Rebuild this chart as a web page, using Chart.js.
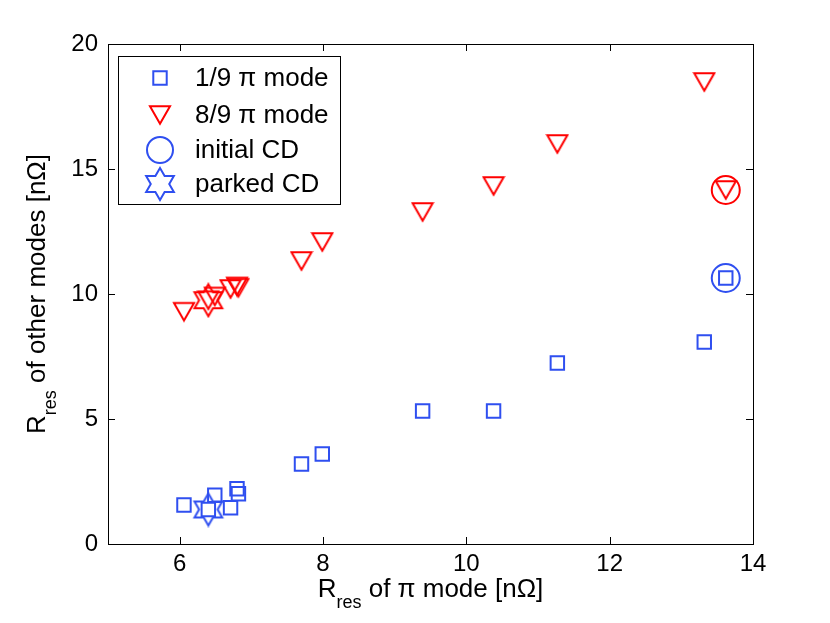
<!DOCTYPE html>
<html>
<head>
<meta charset="utf-8">
<script src="https://cdn.jsdelivr.net/npm/chart.js@4.4.0/dist/chart.umd.min.js"></script>
<style>
  html, body { margin: 0; padding: 0; background: #fff; }
  #wrap { width: 830px; height: 623px; }
</style>
</head>
<body>
<div id="wrap"><canvas id="chart" width="830" height="623"></canvas></div>
<script>
// R_res of pi mode (x) and of the other modes (y), in nOhm
const piMode = [6.06, 6.40, 6.49, 6.71, 6.80, 6.82, 7.70, 7.99, 9.39, 10.38, 11.27, 13.32, 13.62];
const mode1 = [1.56, 1.38, 1.95, 1.45, 2.21, 2.01, 3.20, 3.60, 5.32, 5.32, 7.24, 8.08, 10.64];
const mode8 = [9.29, 9.75, 9.90, 10.20, 10.30, 10.25, 11.32, 12.08, 13.28, 14.32, 16.00, 18.48, 14.16];
const initialIdx = 12;  // initial CD
const parkedIdx = 1;    // parked CD
const xTicks = [6, 8, 10, 12, 14];
const yTicks = [0, 5, 10, 15, 20];
const legendLabels = ['1/9 \u03c0 mode', '8/9 \u03c0 mode', 'initial CD', 'parked CD'];

const BLUE = '#2f4ff0';
const RED = '#ff0000';
const FONT = '"Liberation Sans", Arial, Helvetica, sans-serif';

function pts(ys) {
  return piMode.map((x, i) => ({ x: x, y: ys[i] }));
}
function pick(ys, i) {
  return [{ x: piMode[i], y: ys[i] }];
}

// downward triangle, centred on its bounding box like matlab's 'v'
function triMarker(color, side) {
  const h = side * Math.sqrt(3) / 2;
  const c = document.createElement('canvas');
  c.width = Math.ceil(side + 4);
  c.height = Math.ceil(h + 4);
  const g = c.getContext('2d');
  const cx = c.width / 2, cy = c.height / 2;
  g.strokeStyle = color;
  g.lineWidth = 2;
  g.beginPath();
  g.moveTo(cx - side / 2, cy - h / 2);
  g.lineTo(cx + side / 2, cy - h / 2);
  g.lineTo(cx, cy + h / 2);
  g.closePath();
  g.stroke();
  return c;
}

// six pointed star outline ('h' marker)
function hexMarker(color, R) {
  const c = document.createElement('canvas');
  c.width = c.height = Math.ceil(2 * R + 4);
  const g = c.getContext('2d');
  const cx = c.width / 2, cy = c.height / 2;
  const r = R / Math.sqrt(3);
  g.strokeStyle = color;
  g.lineWidth = 2;
  g.beginPath();
  for (let k = 0; k < 12; k++) {
    const a = -Math.PI / 2 + k * Math.PI / 6;
    const rr = k % 2 === 0 ? R : r;
    const px = cx + rr * Math.cos(a), py = cy + rr * Math.sin(a);
    if (k === 0) g.moveTo(px, py); else g.lineTo(px, py);
  }
  g.closePath();
  g.stroke();
  return c;
}

const triRed = triMarker(RED, 20);
const hexBlue = hexMarker(BLUE, 16);
const hexRed = hexMarker(RED, 16);

// axes box with inward ticks on all sides
const boxPlugin = {
  id: 'box',
  afterDatasetsDraw(chart) {
    const { ctx, chartArea: a, scales } = chart;
    ctx.save();
    ctx.strokeStyle = '#000';
    ctx.lineWidth = 1;
    ctx.strokeRect(a.left + 0.5, a.top + 0.5, a.right - a.left, a.bottom - a.top);
    ctx.beginPath();
    xTicks.forEach(v => {
      const px = Math.round(scales.x.getPixelForValue(v)) + 0.5;
      ctx.moveTo(px, a.bottom); ctx.lineTo(px, a.bottom - 7);
      ctx.moveTo(px, a.top); ctx.lineTo(px, a.top + 7);
    });
    yTicks.forEach(v => {
      const py = Math.round(scales.y.getPixelForValue(v)) + 0.5;
      ctx.moveTo(a.left, py); ctx.lineTo(a.left + 7, py);
      ctx.moveTo(a.right, py); ctx.lineTo(a.right - 7, py);
    });
    ctx.stroke();
    ctx.restore();
  }
};

// axis titles with subscripts
function subTitle(ctx, x, y, rotate) {
  const big = '26px ' + FONT, small = '18px ' + FONT;
  ctx.save();
  ctx.translate(x, y);
  if (rotate) ctx.rotate(-Math.PI / 2);
  ctx.fillStyle = '#000';
  ctx.textBaseline = 'alphabetic';
  ctx.textAlign = 'left';
  const rest = rotate ? ' of other modes [n\u03a9]' : ' of \u03c0 mode [n\u03a9]';
  ctx.font = big;
  const wR = ctx.measureText('R').width;
  const wRest = ctx.measureText(rest).width;
  ctx.font = small;
  const wSub = ctx.measureText('res').width;
  let cx = -(wR + wSub + wRest) / 2;
  ctx.font = big;
  ctx.fillText('R', cx, 0);
  cx += wR;
  ctx.font = small;
  ctx.fillText('res', cx, 11);
  cx += wSub;
  ctx.font = big;
  ctx.fillText(rest, cx, 0);
  ctx.restore();
}

const titlePlugin = {
  id: 'titles',
  afterDraw(chart) {
    const { ctx, chartArea: a } = chart;
    subTitle(ctx, (a.left + a.right) / 2, 597, false);
    subTitle(ctx, 45, (a.top + a.bottom) / 2, true);
  }
};

// legend box in the upper left corner of the axes
const legendPlugin = {
  id: 'boxLegend',
  afterDraw(chart) {
    const ctx = chart.ctx;
    const styles = [
      { pointStyle: 'rect', radius: 9.5, color: BLUE },
      { pointStyle: triRed, radius: 10, color: RED },
      { pointStyle: 'circle', radius: 13, color: BLUE },
      { pointStyle: hexBlue, radius: 16, color: BLUE }
    ];
    const rows = [78, 115, 150, 184];
    ctx.save();
    ctx.fillStyle = '#fff';
    ctx.fillRect(118, 56, 223, 149);
    ctx.strokeStyle = '#000';
    ctx.lineWidth = 1;
    ctx.strokeRect(118.5, 56.5, 222, 148);
    styles.forEach((s, i) => {
      ctx.strokeStyle = s.color;
      ctx.fillStyle = 'rgba(0,0,0,0)';
      ctx.lineWidth = 2;
      Chart.helpers.drawPoint(ctx, { pointStyle: s.pointStyle, radius: s.radius, borderWidth: 2, rotation: 0 }, 160, rows[i]);
      ctx.fillStyle = '#000';
      ctx.font = '26px ' + FONT;
      ctx.textBaseline = 'middle';
      ctx.textAlign = 'left';
      ctx.fillText(legendLabels[i], 195, rows[i] + 1);
    });
    ctx.restore();
  }
};

const common = { showLine: false, backgroundColor: 'rgba(0,0,0,0)', pointBorderWidth: 2 };

new Chart(document.getElementById('chart').getContext('2d'), {
  type: 'scatter',
  data: {
    datasets: [
      Object.assign({ label: legendLabels[0], data: pts(mode1), borderColor: BLUE, pointStyle: 'rect', pointRadius: 9.5 }, common),
      Object.assign({ label: legendLabels[1], data: pts(mode8), borderColor: RED, pointStyle: triRed, pointRadius: 10 }, common),
      Object.assign({ label: legendLabels[2], data: pick(mode1, initialIdx), borderColor: BLUE, pointStyle: 'circle', pointRadius: 14 }, common),
      Object.assign({ label: legendLabels[3], data: pick(mode1, parkedIdx), borderColor: BLUE, pointStyle: hexBlue, pointRadius: 16 }, common),
      Object.assign({ label: 'initial CD (8/9)', data: pick(mode8, initialIdx), borderColor: RED, pointStyle: 'circle', pointRadius: 14 }, common),
      Object.assign({ label: 'parked CD (8/9)', data: pick(mode8, parkedIdx), borderColor: RED, pointStyle: hexRed, pointRadius: 16 }, common)
    ]
  },
  options: {
    responsive: false,
    animation: false,
    devicePixelRatio: 1,
    layout: { padding: { top: 44, right: 77, left: 0, bottom: 0 } },
    plugins: {
      legend: { display: false },
      tooltip: { enabled: false }
    },
    scales: {
      x: {
        type: 'linear',
        min: 5,
        max: 14,
        afterBuildTicks: s => { s.ticks = xTicks.map(v => ({ value: v })); },
        afterFit: s => { s.height = 79; },
        grid: { display: false, drawTicks: false },
        border: { display: false },
        ticks: { color: '#000', font: { family: FONT, size: 24 }, padding: 6, maxRotation: 0 }
      },
      y: {
        type: 'linear',
        min: 0,
        max: 20,
        afterBuildTicks: s => { s.ticks = yTicks.map(v => ({ value: v })); },
        afterFit: s => { s.width = 108; },
        grid: { display: false, drawTicks: false },
        border: { display: false },
        ticks: { color: '#000', font: { family: FONT, size: 24 }, padding: 10 }
      }
    }
  },
  plugins: [boxPlugin, titlePlugin, legendPlugin]
});
</script>
</body>
</html>
